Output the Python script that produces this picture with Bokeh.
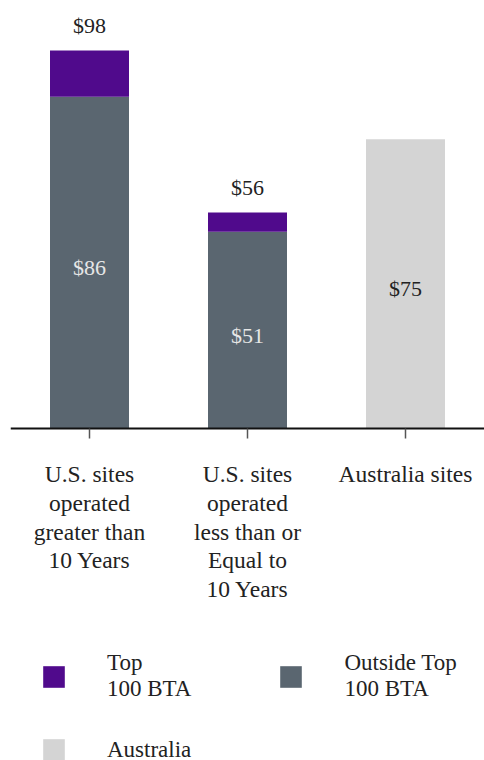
from bokeh.plotting import figure
from bokeh.models import ColumnDataSource, Range1d, FactorRange, Legend, LegendItem
from bokeh.core.properties import value
from bokeh.embed import file_html
from bokeh.resources import INLINE

# ---- data ----
categories = ["U.S. sites\noperated\ngreater than\n10 Years",
              "U.S. sites\noperated\nless than or\nEqual to\n10 Years",
              "Australia sites"]
outside_top_100 = [86, 51, 0]
top_100 = [12, 5, 0]
australia = [0, 0, 75]
series_names = ["Top\n100 BTA", "Outside Top\n100 BTA", "Australia"]
colors = ["#500A8C", "#5A6670", "#D4D4D4"]

FONT = "Liberation Serif"

totals = [o + t for o, t in zip(outside_top_100, top_100)]

src = ColumnDataSource(dict(
    cat=categories,
    outside=outside_top_100,
    top=top_100,
    aus=australia,
))

p = figure(x_range=FactorRange(*categories, range_padding=0),
           y_range=Range1d(-86.1, 108.9),
           frame_width=474, frame_height=752,
           min_border_left=10, min_border_right=0, min_border_top=8, min_border_bottom=0,
           output_backend="svg", toolbar_location=None,
           background_fill_color="white", border_fill_color="white")
p.outline_line_color = None
p.xgrid.visible = False
p.ygrid.visible = False
p.yaxis.visible = False

r_stack = p.vbar_stack(["outside", "top"], x="cat", width=0.5, source=src,
                       color=[colors[1], colors[0]], line_color=None)
r_aus = p.vbar(x="cat", top="aus", width=0.5, source=src, color=colors[2], line_color=None)

# total labels above US bars
tot_src = ColumnDataSource(dict(cat=categories[:2], y=totals[:2],
                                txt=["$%d" % v for v in totals[:2]]))
p.text(x="cat", y="y", text="txt", source=tot_src, text_align="center",
       text_baseline="middle", y_offset=-25, text_font=value(FONT),
       text_font_size="22px", text_color="#222222")

# inside labels for outside-top segments
in_src = ColumnDataSource(dict(cat=categories[:2], y=[v / 2 for v in outside_top_100[:2]],
                               txt=["$%d" % v for v in outside_top_100[:2]]))
p.text(x="cat", y="y", text="txt", source=in_src, text_align="center",
       text_baseline="middle", y_offset=5, text_font=value(FONT),
       text_font_size="22px", text_color="#E6E6E6")

aus_src = ColumnDataSource(dict(cat=categories[2:], y=[v / 2 for v in australia[2:]],
                                txt=["$%d" % v for v in australia[2:]]))
p.text(x="cat", y="y", text="txt", source=aus_src, text_align="center",
       text_baseline="middle", y_offset=5, text_font=value(FONT),
       text_font_size="22px", text_color="#222222")

ax = p.xaxis[0]
ax.fixed_location = 0
ax.axis_line_color = "#111111"
ax.axis_line_width = 2
ax.major_tick_line_color = "#555555"
ax.major_tick_line_width = 1.5
ax.major_tick_out = 10
ax.major_tick_in = 0
ax.minor_tick_line_color = None
ax.major_label_standoff = 23
ax.major_label_text_font = FONT
ax.major_label_text_font_size = "23.5px"
ax.major_label_text_line_height = 1.1
ax.major_label_text_color = "#222222"

leg1 = Legend(items=[LegendItem(label=series_names[0], renderers=[r_stack[1]]),
                     LegendItem(label=series_names[1], renderers=[r_stack[0]])],
              orientation="horizontal", location=(30, 58))
leg2 = Legend(items=[LegendItem(label=series_names[2], renderers=[r_aus])],
              orientation="horizontal", location=(30, -3))
for lg in (leg1, leg2):
    lg.glyph_width = 27
    lg.glyph_height = 27
    lg.label_standoff = 40
    lg.spacing = 86
    lg.padding = 0
    lg.margin = 0
    lg.border_line_color = None
    lg.background_fill_alpha = 0
    lg.label_text_font = FONT
    lg.label_text_font_size = "23px"
    lg.label_text_line_height = 1.14
    lg.label_text_color = "#222222"
    lg.click_policy = "none"
    p.add_layout(lg, "center")

open("out.html", "w").write(file_html(p, INLINE))
